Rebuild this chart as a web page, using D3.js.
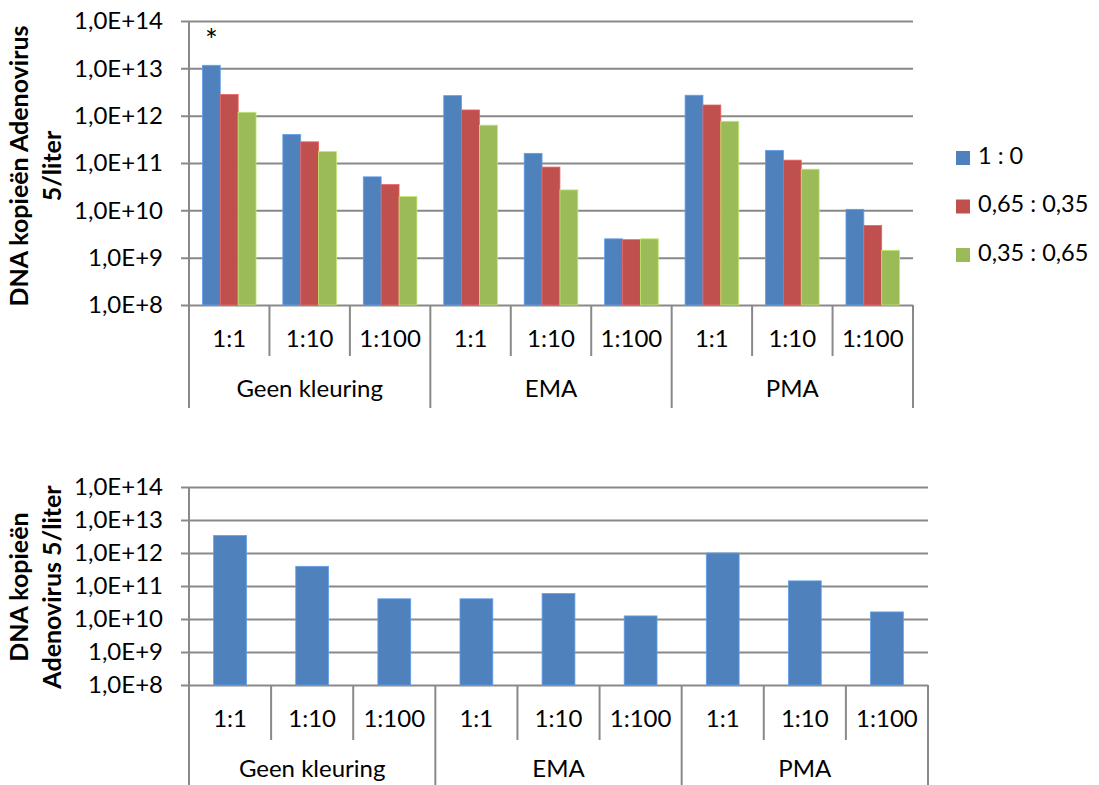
<!DOCTYPE html>
<html>
<head>
<meta charset="utf-8">
<script src="https://cdn.jsdelivr.net/npm/d3@7"></script>
<style>
  html, body { margin: 0; padding: 0; background: #fff; }
  svg { display: block; }
  text { font-family: Lato, "Open Sans", sans-serif; fill: #000; }
</style>
</head>
<body>
<svg id="chart" width="1099" height="785"></svg>
<script>
// Staining treatments (outer category level) and dilutions (inner level)
const groups = ["Geen kleuring", "EMA", "PMA"];
const dilutions = ["1:1", "1:10", "1:100"];

// Mixture ratios shown in the legend of the upper chart
const seriesNames = ["1 : 0", "0,65 : 0,35", "0,35 : 0,65"];
const seriesColors = ["#4F81BD", "#C0504D", "#9BBB59"];

// Upper chart: DNA copies per litre, one value per group × dilution
const ratio1to0 = [1.16e13, 4.0e11, 5.1e10, 2.65e12, 1.6e11, 2.5e9, 2.7e12, 1.85e11, 1.05e10];
const ratio065to035 = [2.8e12, 2.8e11, 3.5e10, 1.32e12, 8.2e10, 2.4e9, 1.68e12, 1.15e11, 4.8e9];
const ratio035to065 = [1.18e12, 1.74e11, 1.95e10, 6.3e11, 2.7e10, 2.5e9, 7.6e11, 7.4e10, 1.43e9];

// Lower chart: single series
const singleValues = [3.4e12, 3.95e11, 4.1e10, 4.1e10, 5.9e10, 1.24e10, 1.0e12, 1.43e11, 1.64e10];

// Logarithmic axis ticks and their labels
const tickValues = [1e8, 1e9, 1e10, 1e11, 1e12, 1e13, 1e14];
const tickLabels = ["1,0E+8", "1,0E+9", "1,0E+10", "1,0E+11", "1,0E+12", "1,0E+13", "1,0E+14"];

const svg = d3.select("#chart");
const gridColor = "#898989";

// Flattened category keys "group|dilution"
const categories = [];
groups.forEach(g => dilutions.forEach(d => categories.push(g + "|" + d)));

function drawChart(opt) {
  const g = svg.append("g");
  const y = d3.scaleLog().domain([1e8, 1e14]).range([opt.bottom, opt.top]);
  const x = d3.scaleBand().domain(categories).range([opt.left, opt.right]).padding(0);
  const inner = d3.scaleBand()
    .domain(opt.series.map((s, i) => i))
    .range([0, x.bandwidth()])
    .paddingInner(0).paddingOuter(0.75);

  // Gridlines + tick labels
  const axis = d3.axisLeft(y)
    .tickValues(tickValues)
    .tickFormat((d, i) => tickLabels[i])
    .tickSizeInner(-(opt.right - opt.left + 8))
    .tickSizeOuter(0)
    .tickPadding(opt.tickPad);
  const ag = g.append("g")
    .attr("transform", `translate(${opt.left - 8},0)`)
    .call(axis);
  ag.select(".domain").remove();
  ag.selectAll(".tick line").attr("stroke", gridColor).attr("stroke-width", 2);
  ag.selectAll(".tick text")
    .attr("font-size", opt.tickFont)
    .attr("font-family", "Lato, 'Open Sans', sans-serif")
    .attr("fill", "#000");

  // Bars
  opt.series.forEach((vals, si) => {
    g.append("g").selectAll("rect")
      .data(vals)
      .join("rect")
      .attr("x", (d, i) => x(categories[i]) + inner(si))
      .attr("width", inner.bandwidth())
      .attr("y", d => y(d))
      .attr("height", d => y(1e8) - y(d))
      .attr("fill", seriesColors[si])
      .attr("stroke", d3.color(seriesColors[si]).brighter(0.6))
      .attr("stroke-width", 0.8);
  });

  // Vertical axis line
  g.append("line")
    .attr("x1", opt.left).attr("x2", opt.left)
    .attr("y1", opt.top).attr("y2", opt.bottom)
    .attr("stroke", gridColor).attr("stroke-width", 2);

  // Category separators: inner ones short, group boundaries long
  const bounds = categories.map(c => x(c)).concat([opt.right]);
  g.append("g").selectAll("line")
    .data(bounds)
    .join("line")
    .attr("x1", d => d).attr("x2", d => d)
    .attr("y1", opt.bottom)
    .attr("y2", (d, i) => (i % 3 === 0) ? opt.groupLineEnd : opt.subLineEnd)
    .attr("stroke", gridColor).attr("stroke-width", 2);

  // Dilution labels
  g.append("g").selectAll("text")
    .data(categories)
    .join("text")
    .attr("x", d => x(d) + x.bandwidth() / 2)
    .attr("y", opt.subLabelY)
    .attr("text-anchor", "middle")
    .attr("dominant-baseline", "middle")
    .attr("font-size", opt.labelFont)
    .text(d => d.split("|")[1]);

  // Group labels
  g.append("g").selectAll("text")
    .data(groups)
    .join("text")
    .attr("x", (d, i) => (x(categories[i * 3]) + x(categories[i * 3 + 2]) + x.bandwidth()) / 2)
    .attr("y", opt.groupLabelY)
    .attr("text-anchor", "middle")
    .attr("dominant-baseline", "middle")
    .attr("font-size", opt.labelFont)
    .text(d => d);

  // Axis title (two rotated lines)
  const t = g.append("text")
    .attr("transform", `translate(0,${opt.titleCY}) rotate(-90)`)
    .attr("text-anchor", "middle")
    .attr("font-weight", "bold")
    .attr("font-size", opt.titleFont);
  opt.title.forEach((line, i) => {
    t.append("tspan")
      .attr("x", 0)
      .attr("y", opt.titleX[i])
      .attr("dominant-baseline", "middle")
      .text(line);
  });

  return { x, y, inner, g };
}

// Upper chart: three mixture ratios
const upper = drawChart({
  top: 21, bottom: 305, left: 189, right: 913,
  series: [ratio1to0, ratio065to035, ratio035to065],
  tickPad: 18, tickFont: 24, labelFont: 24, titleFont: 25,
  subLineEnd: 356, groupLineEnd: 408,
  subLabelY: 341, groupLabelY: 391,
  title: ["DNA kopieën Adenovirus", "5/liter"], titleX: [22, 55], titleCY: 166
});

// Significance marker above the first bar
upper.g.append("text")
  .attr("x", upper.x(categories[0]) + upper.inner(0) + upper.inner.bandwidth() / 2)
  .attr("y", 51)
  .attr("text-anchor", "middle")
  .attr("font-size", 30)
  .text("*");

// Legend
const legend = svg.append("g").attr("transform", "translate(956,0)");
seriesNames.forEach((name, i) => {
  const cy = 158 + i * 48.5;
  legend.append("rect")
    .attr("x", 0).attr("y", cy - 7).attr("width", 14).attr("height", 14)
    .attr("fill", seriesColors[i]);
  legend.append("text")
    .attr("x", 22).attr("y", cy)
    .attr("dominant-baseline", "middle")
    .attr("font-size", 23.5)
    .text(name);
});

// Lower chart: single series
drawChart({
  top: 487, bottom: 685, left: 189, right: 928,
  series: [singleValues],
  tickPad: 18, tickFont: 24, labelFont: 24, titleFont: 25,
  subLineEnd: 740, groupLineEnd: 785,
  subLabelY: 721, groupLabelY: 771,
  title: ["DNA kopieën", "Adenovirus 5/liter"], titleX: [22, 55], titleCY: 587
});
</script>
</body>
</html>
